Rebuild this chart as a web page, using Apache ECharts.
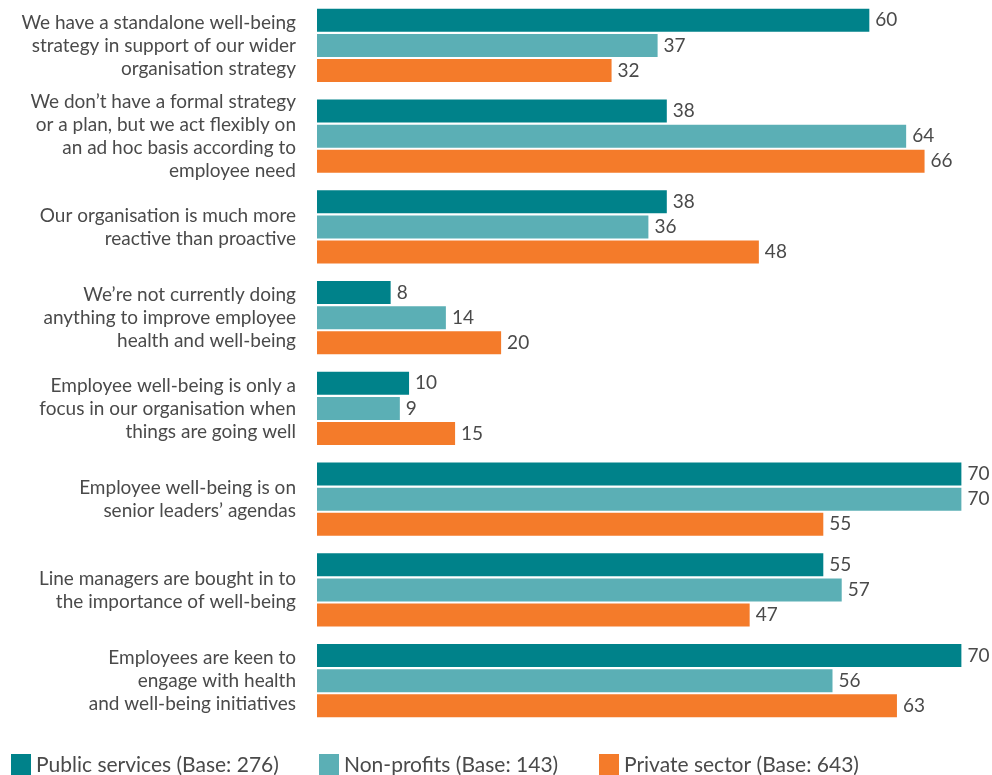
<!DOCTYPE html>
<html>
<head>
<meta charset="utf-8">
<script src="https://cdn.jsdelivr.net/npm/echarts@6/dist/echarts.min.js"></script>
<style>
  html, body { margin: 0; padding: 0; background: #fff; }
  #chart { width: 992px; height: 775px; }
</style>
</head>
<body>
<div id="chart"></div>
<script>
// Survey statements (one per group of bars)
const categories = [
  "We have a standalone well-being\nstrategy in support of our wider\norganisation strategy",
  "We don’t have a formal strategy\nor a plan, but we act flexibly on\nan ad hoc basis according to\nemployee need",
  "Our organisation is much more\nreactive than proactive",
  "We’re not currently doing\nanything to improve employee\nhealth and well-being",
  "Employee well-being is only a\nfocus in our organisation when\nthings are going well",
  "Employee well-being is on\nsenior leaders’ agendas",
  "Line managers are bought in to\nthe importance of well-being",
  "Employees are keen to\nengage with health\nand well-being initiatives"
];

// Percentage agreeing, by sector
const publicServices = [60, 38, 38, 8, 10, 70, 55, 70];
const nonProfits     = [37, 64, 36, 14, 9, 70, 57, 56];
const privateSector  = [32, 66, 48, 20, 15, 55, 47, 63];

const seriesNames = [
  "Public services (Base: 276)",
  "Non-profits (Base: 143)",
  "Private sector (Base: 643)"
];
const colors = ["#00828A", "#5BAFB5", "#F47B2A"];
const legendLefts = [6, 314, 594];

const FONT = "Lato, 'Open Sans', sans-serif";
const TEXT = "#4a4a4a";

const chart = echarts.init(document.getElementById("chart"), null, { renderer: "canvas" });

function barSeries(name, data, color) {
  return {
    name: name,
    type: "bar",
    data: data,
    barWidth: 23,
    barGap: "9%",
    itemStyle: { color: color },
    label: {
      show: true,
      position: "right",
      distance: 6,
      color: TEXT,
      fontFamily: FONT,
      fontSize: 19
    },
    animation: false
  };
}

chart.setOption({
  animation: false,
  color: colors,
  grid: { left: 317, right: 3, top: -3, bottom: 49, containLabel: false },
  xAxis: {
    type: "value",
    min: 0,
    max: 73,
    show: false
  },
  yAxis: {
    type: "category",
    inverse: true,
    data: categories,
    axisLine: { show: false },
    axisTick: { show: false },
    axisLabel: {
      margin: 21,
      color: TEXT,
      fontFamily: FONT,
      fontSize: 19,
      lineHeight: 23,
      align: "right"
    }
  },
  legend: seriesNames.map((name, i) => ({
    left: legendLefts[i],
    top: 749,
    icon: "rect",
    itemWidth: 20,
    itemHeight: 22,
    itemGap: 10,
    textStyle: { color: TEXT, fontFamily: FONT, fontSize: 21 },
    data: [name]
  })),
  series: [
    barSeries(seriesNames[0], publicServices, colors[0]),
    barSeries(seriesNames[1], nonProfits, colors[1]),
    barSeries(seriesNames[2], privateSector, colors[2])
  ]
});
</script>
</body>
</html>
